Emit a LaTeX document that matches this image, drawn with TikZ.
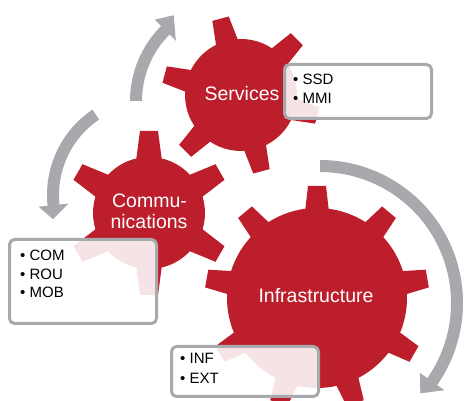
\documentclass[tikz,border=0pt]{standalone}
\usepackage{fontspec}
\setmainfont{Liberation Sans}
\definecolor{gearred}{RGB}{189,30,44}
\definecolor{cyclegray}{RGB}{167,169,172}
% #1 centre, #2 body radius, #3 outer radius, #4 teeth, #5 first tooth angle,
% #6 half width at tooth root, #7 half width at tooth tip
\newcommand\drawgear[7]{%
  \fill[gearred] #1 circle[radius=#2];
  \foreach \k in {1,...,#4}{%
    \pgfmathsetmacro\toothang{#5+360/#4*(\k-1)}%
    \fill[gearred,shift={#1},rotate=\toothang]
      (#2-4,-#6) -- (#3,-#7) -- (#3,#7) -- (#2-4,#6) -- cycle;
  }%
}
\begin{document}
\begin{tikzpicture}[x=1pt,y=1pt,
  gearlabel/.style={text=white,font=\fontsize{19.5}{22}\selectfont,anchor=base,inner sep=0pt},
  itemtext/.style={text=black,font=\fontsize{15}{18}\selectfont,anchor=base west,inner sep=0pt},
  notebox/.style={draw=cyclegray,line width=3pt,rounded corners=5pt,fill=white,
    fill opacity=0.88,inner sep=0pt}]
\useasboundingbox (0,0) rectangle (464,401);

% cycle arrows
\fill[cyclegray] ([shift={(236,300)}]180:106) arc[start angle=180,end angle=135,radius=106]
  -- ([shift={(236,300)}]135:115) -- ([shift={(236,300)}]126:106)
  -- ([shift={(236,300)}]135:85) -- ([shift={(236,300)}]135:94)
  arc[start angle=135,end angle=180,radius=94] -- cycle;
\fill[cyclegray] ([shift={(150,206)}]124:103) arc[start angle=124,end angle=186,radius=103]
  -- ([shift={(150,206)}]186:112) -- ([shift={(150,206)}]194:100)
  -- ([shift={(150,206)}]186:82) -- ([shift={(150,206)}]186:91)
  arc[start angle=186,end angle=124,radius=91] -- cycle;
\fill[cyclegray] ([shift={(320,98)}]90:143) arc[start angle=90,end angle=-35,radius=143]
  -- ([shift={(320,98)}]-35:152) -- ([shift={(320,98)}]-42:135)
  -- ([shift={(320,98)}]-35:122) -- ([shift={(320,98)}]-35:131)
  arc[start angle=-35,end angle=90,radius=131] -- cycle;

% gears
\drawgear{(241,306)}{56}{79}{6}{45}{11.5}{8.5}
\drawgear{(149,188)}{56}{82}{6}{30}{13}{9}
\drawgear{(317,103)}{90}{112}{9}{10}{12}{9}

\node[gearlabel] (svc) at (242,300) {Services};
\node[gearlabel] (comm1) at (149.5,193) {Commu-};
\node[gearlabel] (comm2) at (149,172) {nications};
\node[gearlabel] (infra) at (316,98) {Infrastructure};

% note boxes
\node[notebox,minimum width=147pt,minimum height=54pt] (svcbox) at (358,309.5) {};
\node[notebox,minimum width=147pt,minimum height=84pt] (commbox) at (83,119.5) {};
\node[notebox,minimum width=147pt,minimum height=50pt] (infrabox) at (245,29.5) {};

\node[itemtext] (ssd) at (293,316) {• SSD};
\node[itemtext] (mmi) at (293,297) {• MMI};
\node[itemtext] (com) at (20,140) {• COM};
\node[itemtext] (rou) at (20,121) {• ROU};
\node[itemtext] (mob) at (20,103) {• MOB};
\node[itemtext] (inf) at (180,37) {• INF};
\node[itemtext] (ext) at (180,17) {• EXT};
\end{tikzpicture}
\end{document}
